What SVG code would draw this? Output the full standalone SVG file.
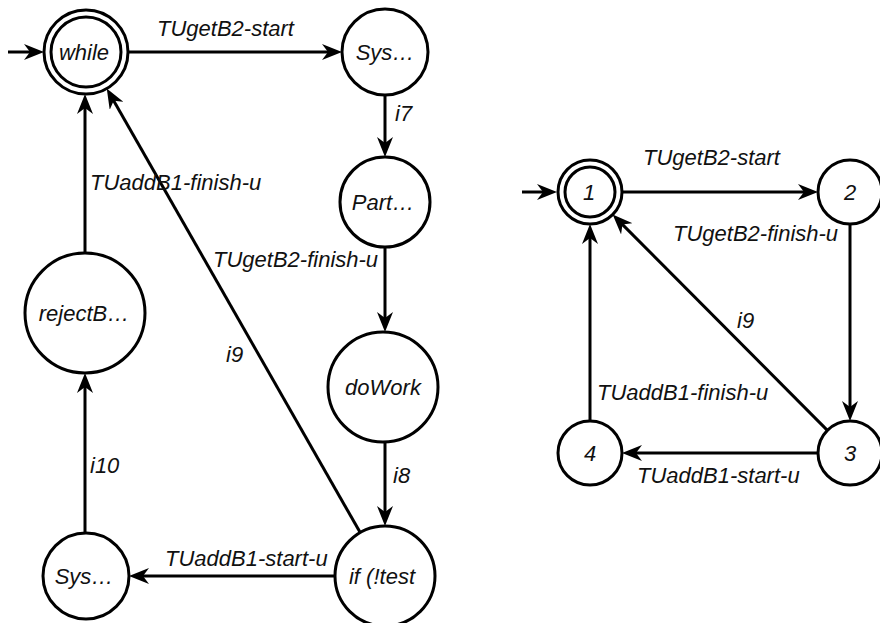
<svg xmlns="http://www.w3.org/2000/svg" width="880" height="623" viewBox="0 0 880 623">
  <style>
    .node { fill: #ffffff; stroke: #000000; stroke-width: 3; }
    .edge { fill: none; stroke: #000000; stroke-width: 3; marker-end: url(#arrow); }
    text { font-family: "Liberation Sans", Arial, sans-serif; font-style: italic; font-size: 22px; fill: #111111; }
    .center { text-anchor: middle; }
  </style>
  <defs>
    <marker id="arrow" viewBox="0 0 20 16" refX="8" refY="8" markerWidth="20" markerHeight="16" markerUnits="userSpaceOnUse" orient="auto">
      <path d="M0,0 L20,8 L0,16 L6,8 Z" fill="#000000"/>
    </marker>
  </defs>
  <rect width="880" height="623" fill="#ffffff"/>

  <!-- connectors -->
  <g id="connectors">
    <!-- left machine -->
    <path class="edge" d="M8,52 L32,52"/>
    <path class="edge" d="M128,52 L330,52"/>
    <path class="edge" d="M385,95 L385,145"/>
    <path class="edge" d="M385,247 L385,320"/>
    <path class="edge" d="M385,442 L385,514"/>
    <path class="edge" d="M335,576 L141,576"/>
    <path class="edge" d="M85,533 L85,385"/>
    <path class="edge" d="M85,253 L85,106"/>
    <path class="edge" d="M360.2,532.6 L112.7,98.9"/>
    <!-- right machine -->
    <path class="edge" d="M522,192 L545,192"/>
    <path class="edge" d="M622,192 L806,192"/>
    <path class="edge" d="M850,224 L850,409"/>
    <path class="edge" d="M818,453 L634,453"/>
    <path class="edge" d="M590,421 L590,236"/>
    <path class="edge" d="M827.4,430.4 L621.1,223.1"/>

    <!-- edge labels -->
    <text x="157" y="36">TUgetB2-start</text>
    <text x="395" y="121">i7</text>
    <text x="213" y="267">TUgetB2-finish-u</text>
    <text x="393" y="483">i8</text>
    <text x="165" y="566">TUaddB1-start-u</text>
    <text x="90" y="473">i10</text>
    <text x="90" y="190">TUaddB1-finish-u</text>
    <text x="226" y="362">i9</text>

    <text x="643" y="165">TUgetB2-start</text>
    <text x="673" y="241">TUgetB2-finish-u</text>
    <text x="737" y="328">i9</text>
    <text x="597" y="400">TUaddB1-finish-u</text>
    <text x="637" y="483">TUaddB1-start-u</text>
  </g>

  <!-- left machine states -->
  <g id="while">
    <circle class="node" cx="86" cy="52" r="42"/>
    <circle class="node" cx="86" cy="52" r="35"/>
    <text class="center" x="84" y="60">while</text>
  </g>
  <g id="sys-top">
    <circle class="node" cx="385" cy="52" r="43"/>
    <text class="center" x="385" y="60">Sys…</text>
  </g>
  <g id="part">
    <circle class="node" cx="385" cy="202" r="45"/>
    <text class="center" x="383" y="210">Part…</text>
  </g>
  <g id="dowork">
    <circle class="node" cx="383" cy="387" r="55"/>
    <text class="center" x="383" y="395">doWork</text>
  </g>
  <g id="if-test">
    <circle class="node" cx="385" cy="576" r="50"/>
    <text class="center" x="382" y="584">if (!test</text>
  </g>
  <g id="sys-bottom">
    <circle class="node" cx="86" cy="576" r="43"/>
    <text class="center" x="84" y="584">Sys…</text>
  </g>
  <g id="rejectb">
    <circle class="node" cx="85" cy="313" r="60"/>
    <text class="center" x="84" y="321">rejectB…</text>
  </g>

  <!-- right machine states -->
  <g id="state-1">
    <circle class="node" cx="590" cy="192" r="32"/>
    <circle class="node" cx="590" cy="192" r="25"/>
    <text class="center" x="589" y="200">1</text>
  </g>
  <g id="state-2">
    <circle class="node" cx="850" cy="192" r="32"/>
    <text class="center" x="850" y="200">2</text>
  </g>
  <g id="state-3">
    <circle class="node" cx="850" cy="453" r="32"/>
    <text class="center" x="850" y="461">3</text>
  </g>
  <g id="state-4">
    <circle class="node" cx="590" cy="453" r="32"/>
    <text class="center" x="590" y="461">4</text>
  </g>
</svg>
